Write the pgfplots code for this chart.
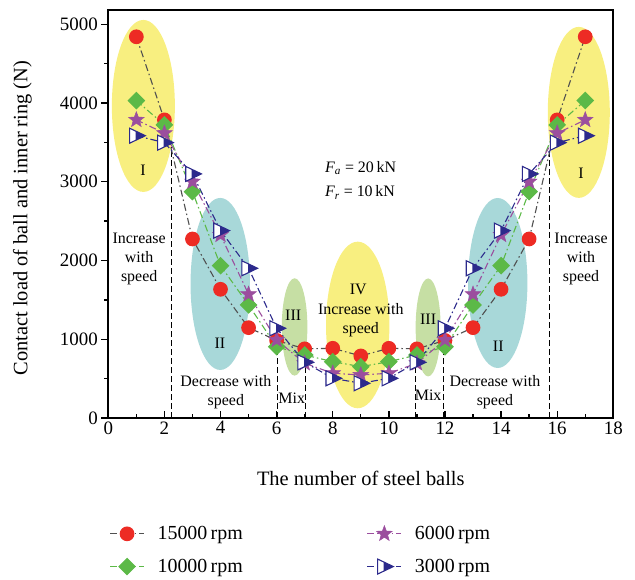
\documentclass[border=0pt]{standalone}
\usepackage{fontspec}
\setmainfont{Liberation Serif}
\usepackage{pgfplots}
\pgfplotsset{compat=1.18}
\usetikzlibrary{plotmarks}

\definecolor{cred}{RGB}{237,43,36}
\definecolor{cgray}{RGB}{80,80,80}
\definecolor{cgreen}{RGB}{92,185,71}
\definecolor{cpurple}{RGB}{155,78,158}
\definecolor{cblue}{RGB}{44,42,140}
\definecolor{eyellow}{RGB}{248,239,128}
\definecolor{eteal}{RGB}{168,216,217}
\definecolor{egreen}{RGB}{198,223,164}

% filled five-pointed star
\pgfdeclareplotmark{fstar}{%
  \pgfpathmoveto{\pgfpointpolar{90}{\pgfplotmarksize}}%
  \pgfpathlineto{\pgfpointpolar{126}{0.42\pgfplotmarksize}}%
  \pgfpathlineto{\pgfpointpolar{162}{\pgfplotmarksize}}%
  \pgfpathlineto{\pgfpointpolar{198}{0.42\pgfplotmarksize}}%
  \pgfpathlineto{\pgfpointpolar{234}{\pgfplotmarksize}}%
  \pgfpathlineto{\pgfpointpolar{270}{0.42\pgfplotmarksize}}%
  \pgfpathlineto{\pgfpointpolar{306}{\pgfplotmarksize}}%
  \pgfpathlineto{\pgfpointpolar{342}{0.42\pgfplotmarksize}}%
  \pgfpathlineto{\pgfpointpolar{18}{\pgfplotmarksize}}%
  \pgfpathlineto{\pgfpointpolar{54}{0.42\pgfplotmarksize}}%
  \pgfpathclose
  \pgfusepathqfillstroke
}
% right-pointing triangle, left part open
\pgfdeclareplotmark{halftri}{%
  \pgfpathmoveto{\pgfqpoint{-0.9\pgfplotmarksize}{\pgfplotmarksize}}%
  \pgfpathlineto{\pgfqpoint{1.2\pgfplotmarksize}{0pt}}%
  \pgfpathlineto{\pgfqpoint{-0.9\pgfplotmarksize}{-\pgfplotmarksize}}%
  \pgfpathclose
  \pgfusepathqfill
  \begin{pgfscope}
  \pgfsetfillcolor{white}%
  \pgfpathmoveto{\pgfqpoint{-0.9\pgfplotmarksize}{\pgfplotmarksize}}%
  \pgfpathlineto{\pgfqpoint{-0.1\pgfplotmarksize}{0.619\pgfplotmarksize}}%
  \pgfpathlineto{\pgfqpoint{-0.1\pgfplotmarksize}{-0.619\pgfplotmarksize}}%
  \pgfpathlineto{\pgfqpoint{-0.9\pgfplotmarksize}{-\pgfplotmarksize}}%
  \pgfpathclose
  \pgfusepathqfill
  \end{pgfscope}
  \pgfpathmoveto{\pgfqpoint{-0.9\pgfplotmarksize}{\pgfplotmarksize}}%
  \pgfpathlineto{\pgfqpoint{1.2\pgfplotmarksize}{0pt}}%
  \pgfpathlineto{\pgfqpoint{-0.9\pgfplotmarksize}{-\pgfplotmarksize}}%
  \pgfpathclose
  \pgfusepathqstroke
}

\pgfplotsset{legend image code/.code={\draw[mark repeat=2,mark phase=2,#1] plot coordinates {(0bp,0bp) (17bp,0bp) (34bp,0bp)};}}

\newcommand{\ann}{\fontsize{16}{19}\selectfont}

\begin{document}
\begin{tikzpicture}
\begin{axis}[
    scale only axis,
    width=505bp, height=408bp,
    xmin=0, xmax=18, ymin=0, ymax=5180,
    xtick={0,2,...,18}, minor x tick num=1,
    ytick={0,1000,...,5000}, minor y tick num=1,
    xtick pos=lower, ytick pos=left,
    xtick align=inside, ytick align=outside,
    major tick length=7bp, minor tick length=4bp,
    axis line style={line width=1.8bp},
    tick style={line width=1.3bp, black},
    ticklabel style={font=\fontsize{19}{19}\selectfont},
    /pgf/number format/assume math mode=true,
    scaled y ticks=false,
    y tick label style={/pgf/number format/1000 sep={}},
    xlabel={The number of steel balls},
    ylabel={Contact load of ball and inner ring (N)},
    label style={font=\fontsize{20.5}{24}\selectfont},
    xlabel style={at={(axis description cs:0.5,-0.147)}, anchor=center},
    ylabel style={at={(axis description cs:-0.17,0.49)}, anchor=center},
    legend columns=2, transpose legend,
    legend cell align=left,
    legend style={at={(axis description cs:0.002,-0.324)}, anchor=west,
        draw=none, fill=none, inner sep=0pt,
        font=\fontsize{20}{24}\selectfont, row sep=14bp,
        /tikz/every odd column/.append style={column sep=11bp},
        /tikz/every even column/.append style={column sep=122bp}},
]
% shaded regions
\fill[eyellow] (axis cs:1.25,3962) ellipse [x radius=31.5bp, y radius=86bp];
\fill[eyellow] (axis cs:16.77,3880) ellipse [x radius=31bp, y radius=85.5bp];
\fill[eteal] (axis cs:3.99,1702) ellipse [x radius=29.7bp, y radius=86bp];
\fill[eteal] (axis cs:13.88,1714) ellipse [x radius=29.7bp, y radius=85bp];
\fill[egreen] (axis cs:6.64,1156) ellipse [x radius=12.8bp, y radius=48.7bp];
\fill[egreen] (axis cs:11.40,1150) ellipse [x radius=12.5bp, y radius=49bp];
\fill[eyellow] (axis cs:8.89,1181) ellipse [x radius=31.7bp, y radius=83.3bp];

% region borders
\pgfplotsset{every axis plot/.append style={forget plot}}
\addplot[black, line width=1.1bp, dash pattern=on 6bp off 3bp] coordinates {(2.26,0) (2.26,3440)};
\addplot[black, line width=1.1bp, dash pattern=on 6bp off 3bp] coordinates {(6.04,0) (6.04,990)};
\addplot[black, line width=1.1bp, dash pattern=on 6bp off 3bp] coordinates {(7.04,0) (7.04,770)};
\addplot[black, line width=1.1bp, dash pattern=on 6bp off 3bp] coordinates {(10.96,0) (10.96,800)};
\addplot[black, line width=1.1bp, dash pattern=on 6bp off 3bp] coordinates {(11.96,0) (11.96,930)};
\addplot[black, line width=1.1bp, dash pattern=on 6bp off 3bp] coordinates {(15.74,0) (15.74,3350)};
\pgfplotsset{every axis plot/.append style={forget plot=false}}

% 15000 rpm
\addplot[cgray, line width=1.1bp, dash pattern=on 7bp off 3bp on 1.5bp off 3bp,
    mark=*, mark size=6.8bp, mark options={solid, fill=cred, draw=cred}] coordinates {
    (1,4840) (2,3785) (3,2273) (4,1634) (5,1147) (6,985) (7,878) (8,885) (9,788)
    (10,885) (11,878) (12,985) (13,1147) (14,1634) (15,2273) (16,3785) (17,4840)};
\addlegendentry{15000\,rpm}
% 10000 rpm
\addplot[cgreen, line width=1.1bp, dash pattern=on 7bp off 3bp on 1.5bp off 3bp,
    mark=square*, mark size=5.7bp, mark options={solid, fill=cgreen, draw=cgreen, rotate=45}] coordinates {
    (1,4030) (2,3721) (3,2874) (4,1934) (5,1435) (6,905) (7,800) (8,715) (9,652)
    (10,715) (11,800) (12,905) (13,1435) (14,1934) (15,2874) (16,3721) (17,4030)};
\addlegendentry{10000\,rpm}
% 6000 rpm
\addplot[cpurple, line width=1.1bp, dash pattern=on 7bp off 3bp on 1.5bp off 3bp,
    mark=fstar, mark size=8.2bp, mark options={solid, fill=cpurple, draw=cpurple, line width=0.5bp}] coordinates {
    (1,3785) (2,3616) (3,3001) (4,2324) (5,1571) (6,991) (7,695) (8,568) (9,546)
    (10,568) (11,695) (12,991) (13,1571) (14,2324) (15,3001) (16,3616) (17,3785)};
\addlegendentry{6000\,rpm}
% 3000 rpm
\addplot[cblue, line width=1.1bp, dash pattern=on 7bp off 3bp on 1.5bp off 3bp,
    mark=halftri, mark size=7.5bp, mark options={solid, fill=cblue, draw=cblue, line width=1.1bp}] coordinates {
    (1,3584) (2,3496) (3,3099) (4,2379) (5,1901) (6,1139) (7,707) (8,504) (9,441)
    (10,504) (11,707) (12,1139) (13,1901) (14,2379) (15,3099) (16,3496) (17,3584)};
\addlegendentry{3000\,rpm}

% annotations
\node[font=\ann] at (axis cs:1.24,3150) {I};
\node[font=\ann] at (axis cs:16.85,3111) {I};
\node[font=\ann, align=center] at (axis cs:1.10,2015) {Increase\\with\\speed};
\node[font=\ann, align=center] at (axis cs:16.85,2015) {Increase\\with\\speed};
\node[font=\ann] at (axis cs:3.98,950) {II};
\node[font=\ann] at (axis cs:13.90,910) {II};
\node[font=\ann, align=center] at (axis cs:4.19,330) {Decrease with\\speed};
\node[font=\ann, align=center] at (axis cs:13.78,325) {Decrease with\\speed};
\node[font=\ann] at (axis cs:6.59,1300) {III};
\node[font=\ann] at (axis cs:11.40,1250) {III};
\node[font=\ann] at (axis cs:6.54,245) {Mix};
\node[font=\ann] at (axis cs:11.40,295) {Mix};
\node[font=\ann] at (axis cs:8.91,1634) {IV};
\node[font=\ann, align=center] at (axis cs:9.0,1246) {Increase with\\speed};
\node[font=\ann, anchor=west, inner sep=0pt] at (axis cs:7.72,3171) {\textit{F}\textsubscript{\textit{a}} = 20\,kN};
\node[font=\ann, anchor=west, inner sep=0pt] at (axis cs:7.72,2861) {\textit{F}\textsubscript{\textit{r}} = 10\,kN};
\end{axis}
\pgfresetboundingbox
\path[use as bounding box] ([xshift=-108.3bp,yshift=-162bp]current axis.south west) rectangle ([xshift=21.7bp,yshift=10bp]current axis.north east);
\end{tikzpicture}
\end{document}
